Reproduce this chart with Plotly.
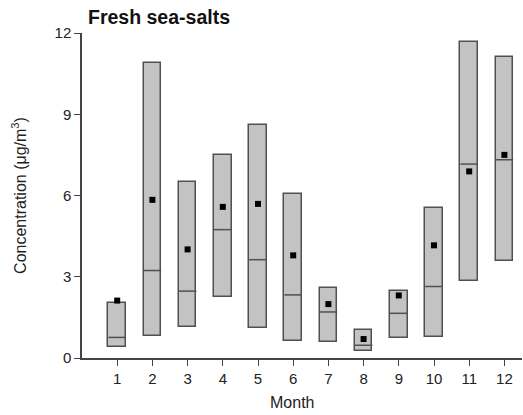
import plotly.graph_objects as go

months = [1, 2, 3, 4, 5, 6, 7, 8, 9, 10, 11, 12]
box_top = [2.04, 10.89, 6.50, 7.50, 8.59, 6.05, 2.60, 1.04, 2.49, 5.54, 11.67, 11.11]
box_bottom = [0.39, 0.80, 1.13, 2.24, 1.09, 0.64, 0.59, 0.26, 0.74, 0.78, 2.84, 3.58]
median = [0.76, 3.23, 2.47, 4.74, 3.63, 2.33, 1.70, 0.47, 1.65, 2.64, 7.16, 7.32]
mean = [2.12, 5.84, 4.01, 5.58, 5.69, 3.79, 1.99, 0.70, 2.31, 4.16, 6.89, 7.50]
y_ticks = [0, 3, 6, 9, 12]

W = 0.5
FONT = "Liberation Sans, Arial, sans-serif"

fig = go.Figure()
fig.add_trace(go.Bar(
    x=months,
    y=[t - b for t, b in zip(box_top, box_bottom)],
    base=box_bottom,
    width=W,
    marker=dict(color="#c3c3c3", line=dict(color="#505050", width=1.5)),
    showlegend=False,
))

mx, my = [], []
for m, v in zip(months, median):
    mx += [m - W / 2, m + W / 2, None]
    my += [v, v, None]
fig.add_trace(go.Scatter(x=mx, y=my, mode="lines",
                         line=dict(color="#505050", width=1.5), showlegend=False))

fig.add_trace(go.Scatter(x=months, y=mean, mode="markers",
                         marker=dict(symbol="square", size=6, color="black"),
                         showlegend=False))

fig.update_layout(
    width=523, height=415,
    margin=dict(l=82, r=1, t=33, b=57),
    plot_bgcolor="white", paper_bgcolor="white",
    font=dict(family=FONT, size=15, color="#222"),
    title=dict(text="<b>Fresh sea-salts</b>", x=88 / 523, xanchor="left",
               y=1 - 17 / 415, yanchor="middle", font=dict(size=19.5, color="#111")),
    bargap=0,
    annotations=[dict(text="Month", xref="paper", yref="paper", x=0.477, y=-0.137,
                      xanchor="center", yanchor="middle", showarrow=False,
                      font=dict(size=16, color="#222"))],
)
fig.update_xaxes(range=[0, 12.5], tickvals=months, ticks="outside", ticklen=6,
                 tickcolor="#444", showline=True, linecolor="#444", linewidth=1.5,
                 showgrid=False, zeroline=False)
fig.update_yaxes(range=[0, 12], tickvals=y_ticks, ticks="outside", ticklen=6,
                 tickcolor="#444", showline=True, linecolor="#444", linewidth=1.5,
                 showgrid=False, zeroline=False,
                 title=dict(text="Concentration (μg/m<sup>3</sup>)", standoff=24,
                            font=dict(size=16)))

fig.write_html("out.html", config={"displayModeBar": False},
               post_script="document.body.style.margin='0';document.body.style.padding='0';")
